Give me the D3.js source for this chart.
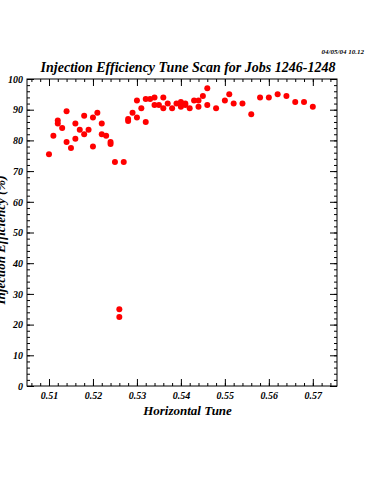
<!DOCTYPE html>
<html>
<head>
<meta charset="utf-8">
<script src="https://cdn.jsdelivr.net/npm/d3@7"></script>
<style>
  body { margin: 0; background: #fff; }
  text { font-family: "Liberation Serif", "DejaVu Serif", serif; font-weight: bold; font-style: italic; }
</style>
</head>
<body>
<svg class="chart"></svg>
<script>
// horizontal tune of each shot
var tune = [0.510, 0.511, 0.512, 0.512, 0.513, 0.514, 0.514, 0.515, 0.516, 0.516,
            0.517, 0.518, 0.518, 0.519, 0.520, 0.520, 0.521, 0.522, 0.522, 0.523,
            0.524, 0.524, 0.525, 0.526, 0.526, 0.527, 0.528, 0.528, 0.529, 0.530,
            0.530, 0.531, 0.532, 0.532, 0.533, 0.534, 0.534, 0.535, 0.536, 0.536,
            0.537, 0.538, 0.539, 0.540, 0.540, 0.540, 0.541, 0.541, 0.542, 0.543,
            0.544, 0.544, 0.545, 0.546, 0.546, 0.548, 0.550, 0.551, 0.552, 0.554,
            0.556, 0.558, 0.560, 0.562, 0.564, 0.566, 0.568, 0.570];
// injection efficiency (%)
var efficiency = [75.5, 81.5, 86.5, 85.5, 84, 89.5, 79.5, 77.5, 85.5, 80.5,
                  83.5, 88, 82, 83.5, 87.5, 78, 89, 85.5, 82, 81.5,
                  79.5, 78.8, 73, 25, 22.5, 73, 87, 86.3, 89, 93,
                  87.5, 90.5, 86, 93.5, 93.5, 94, 91.5, 91.5, 94, 90.5,
                  92, 90.5, 92, 92.5, 91.5, 91, 92, 91.5, 90.5, 93,
                  93, 91, 94.5, 97, 91.5, 90.5, 93, 95, 92, 92,
                  88.5, 94, 94, 95, 94.5, 92.5, 92.5, 91];
var xTicks = [0.51, 0.52, 0.53, 0.54, 0.55, 0.56, 0.57];
var yTicks = [0, 10, 20, 30, 40, 50, 60, 70, 80, 90, 100];

var W = 375, H = 500;
var margin = {top: 79, left: 27, right: 38, bottom: 114};
var width = W - margin.left - margin.right,
    height = H - margin.top - margin.bottom;

var svg = d3.select(".chart").attr("width", W).attr("height", H);

svg.append("text").attr("x", 364).attr("y", 54).attr("text-anchor", "end")
    .style("font-size", "7px").text("04/05/04  10.12");
svg.append("text").attr("x", 188).attr("y", 72).attr("text-anchor", "middle")
    .style("font-size", "14px").text("Injection Efficiency Tune Scan for Jobs 1246-1248");

var g = svg.append("g").attr("transform", "translate(" + margin.left + "," + margin.top + ")");

var x = d3.scaleLinear().domain([0.505, 0.5755]).range([0, width]);
var y = d3.scaleLinear().domain([0, 100]).range([height, 0]);

var xMinor = d3.range(0.506, 0.5755, 0.002);
var yMinor = d3.range(2, 100, 2);

function axisStyle(sel) {
    sel.select(".domain").remove();
    sel.selectAll("line").attr("stroke", "#000");
    sel.selectAll("text").style("font-size", "10px").attr("fill", "#000");
}

// bottom
g.append("g").attr("transform", "translate(0," + height + ")")
    .call(d3.axisBottom(x).tickValues(xMinor).tickSize(-3).tickFormat(""))
    .call(axisStyle);
g.append("g").attr("transform", "translate(0," + height + ")")
    .call(d3.axisBottom(x).tickValues(xTicks).tickSize(-7).tickPadding(6).tickFormat(d3.format(".2f")))
    .call(axisStyle);
// top
g.append("g")
    .call(d3.axisTop(x).tickValues(xMinor).tickSize(-3).tickFormat(""))
    .call(axisStyle);
g.append("g")
    .call(d3.axisTop(x).tickValues(xTicks).tickSize(-7).tickFormat(""))
    .call(axisStyle);
// left
g.append("g")
    .call(d3.axisLeft(y).tickValues(yMinor).tickSize(-3).tickFormat(""))
    .call(axisStyle);
g.append("g")
    .call(d3.axisLeft(y).tickValues(yTicks).tickSize(-7).tickPadding(4).tickFormat(d3.format("d")))
    .call(axisStyle);
// right
g.append("g").attr("transform", "translate(" + width + ",0)")
    .call(d3.axisRight(y).tickValues(yMinor).tickSize(-3).tickFormat(""))
    .call(axisStyle);
g.append("g").attr("transform", "translate(" + width + ",0)")
    .call(d3.axisRight(y).tickValues(yTicks).tickSize(-7).tickFormat(""))
    .call(axisStyle);

g.append("rect").attr("width", width).attr("height", height)
    .attr("fill", "none").attr("stroke", "#000").attr("stroke-width", 1);

g.selectAll("circle.pt").data(tune).enter().append("circle")
    .attr("class", "pt")
    .attr("cx", function(d) { return x(d); })
    .attr("cy", function(d, i) { return y(efficiency[i]); })
    .attr("r", 3)
    .attr("fill", "#f00");

svg.append("text").attr("x", margin.left + x(0.5415)).attr("y", 415)
    .attr("text-anchor", "middle").style("font-size", "13px").text("Horizontal Tune");

svg.append("text").attr("transform", "translate(5,240) rotate(-90)")
    .attr("text-anchor", "middle").style("font-size", "13px").text("Injection Efficiency (%)");
</script>
</body>
</html>
